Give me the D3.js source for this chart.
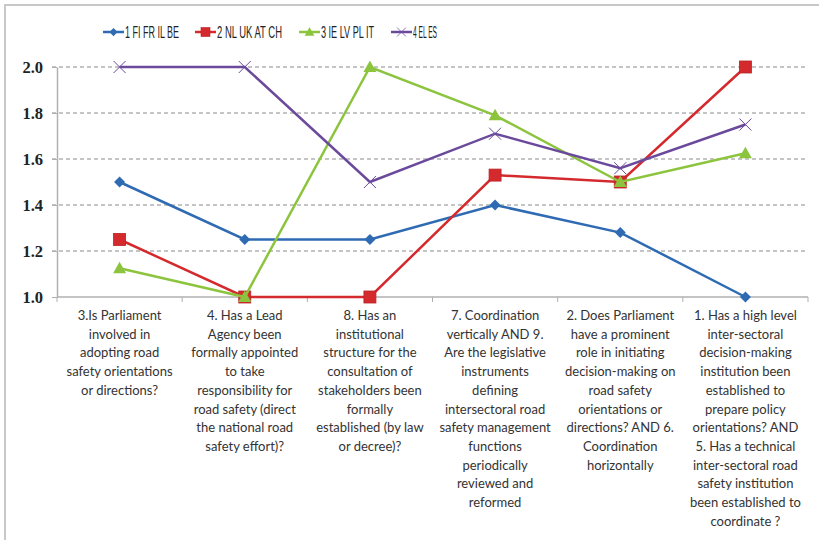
<!DOCTYPE html>
<html>
<head>
<meta charset="utf-8">
<script src="https://d3js.org/d3.v7.min.js"></script>
<style>
body { margin: 0; background: #fff; }
#chart { width: 819px; height: 540px; }
</style>
</head>
<body>
<div id="chart"></div>
<script>
// category labels, already broken into lines as in the original
var categories = [
    ["3.Is Parliament", "involved in", "adopting road", "safety orientations", "or directions?"],
    ["4. Has a Lead", "Agency been", "formally appointed", "to take", "responsibility for", "road safety (direct", "the national road", "safety effort)?"],
    ["8. Has an", "institutional", "structure for the", "consultation of", "stakeholders been", "formally", "established (by law", "or decree)?"],
    ["7. Coordination", "vertically AND 9.", "Are the legislative", "instruments", "defining", "intersectoral road", "safety management", "functions", "periodically", "reviewed and", "reformed"],
    ["2. Does Parliament", "have a prominent", "role in initiating", "decision-making on", "road safety", "orientations or", "directions? AND 6.", "Coordination", "horizontally"],
    ["1. Has a high level", "inter-sectoral", "decision-making", "institution been", "established to", "prepare policy", "orientations? AND", "5. Has a technical", "inter-sectoral road", "safety institution", "been established to", "coordinate ?"]
];

var seriesNames = ["1 FI FR IL BE", "2 NL UK AT CH", "3 IE LV PL IT", "4 EL ES"];
var s1 = [1.5, 1.25, 1.25, 1.4, 1.28, 1.0];
var s2 = [1.25, 1.0, 1.0, 1.53, 1.5, 2.0];
var s3 = [1.125, 1.0, 2.0, 1.79, 1.5, 1.625];
var s4 = [2.0, 2.0, 1.5, 1.71, 1.56, 1.75];
var yTicks = [1.0, 1.2, 1.4, 1.6, 1.8, 2.0];

var colors = ["#2f6bb3", "#d42a2e", "#8cc43e", "#6b4a9c"];
var markers = ["diamond", "square", "triangle", "x"];
var allSeries = [s1, s2, s3, s4];

var width = 819, height = 540;
var svg = d3.select("#chart").append("svg")
    .attr("width", width)
    .attr("height", height);

// outer frame
svg.append("rect")
    .attr("x", 5).attr("y", 5)
    .attr("width", 830).attr("height", 560)
    .attr("fill", "none").attr("stroke", "#c8c8c8").attr("stroke-width", 2);

var plotLeft = 57, plotRight = 808, plotTop = 67, plotBottom = 297;

var x = d3.scaleBand()
    .domain(d3.range(categories.length))
    .range([plotLeft, plotRight]);

var y = d3.scaleLinear()
    .domain([1.0, 2.0])
    .range([plotBottom, plotTop]);

// gridlines
svg.append("g")
    .selectAll("line")
    .data(yTicks.slice(1))
    .enter().append("line")
    .attr("x1", plotLeft - 5).attr("x2", plotRight)
    .attr("y1", function(d) { return y(d); })
    .attr("y2", function(d) { return y(d); })
    .attr("stroke", "#8a8a8a")
    .attr("stroke-dasharray", "4,3")
    .attr("stroke-width", 1);

// y axis
var yAxis = svg.append("g")
    .attr("transform", "translate(" + plotLeft + ",0)")
    .call(d3.axisLeft(y).tickValues(yTicks).tickFormat(d3.format(".1f")).tickSize(5).tickSizeOuter(0));
yAxis.select(".domain").attr("stroke", "#b0b0b0").attr("stroke-width", 1.5);
yAxis.selectAll(".tick line").attr("stroke", "#b0b0b0");
yAxis.selectAll("text")
    .attr("x", -14)
    .style("font-family", "'Liberation Serif', serif")
    .style("font-weight", "bold")
    .style("font-size", "16.5px")
    .attr("fill", "#222");

// x axis line + ticks at category boundaries
svg.append("line")
    .attr("x1", plotLeft).attr("x2", plotRight)
    .attr("y1", plotBottom).attr("y2", plotBottom)
    .attr("stroke", "#b0b0b0").attr("stroke-width", 1.5);

svg.append("g")
    .selectAll("line")
    .data(d3.range(categories.length + 1))
    .enter().append("line")
    .attr("x1", function(i) { return plotLeft + i * x.bandwidth(); })
    .attr("x2", function(i) { return plotLeft + i * x.bandwidth(); })
    .attr("y1", plotBottom).attr("y2", plotBottom + 5)
    .attr("stroke", "#b0b0b0");

// category labels
var labels = svg.append("g")
    .selectAll("text")
    .data(categories)
    .enter().append("text")
    .attr("text-anchor", "middle")
    .style("font-family", "Lato, sans-serif")
    .style("font-size", "13px")
    .attr("fill", "#333");

labels.each(function(lines, i) {
    var t = d3.select(this);
    lines.forEach(function(l, j) {
        t.append("tspan")
            .attr("x", x(i) + x.bandwidth() / 2)
            .attr("y", 320 + j * 18.7)
            .text(l);
    });
});

var line = d3.line()
    .x(function(d, i) { return x(i) + x.bandwidth() / 2; })
    .y(function(d) { return y(d); });

function drawMarker(g, type, color) {
    if (type == "diamond") {
        g.append("path").attr("d", "M0,-5.5L5.5,0L0,5.5L-5.5,0Z").attr("fill", color);
    } else if (type == "square") {
        g.append("rect").attr("x", -6).attr("y", -6).attr("width", 12).attr("height", 12)
            .attr("fill", color).attr("stroke", "#b82226").attr("stroke-width", 0.8);
    } else if (type == "triangle") {
        g.append("path").attr("d", "M0,-6.5L6.5,5L-6.5,5Z").attr("fill", color);
    } else {
        g.append("path").attr("d", "M-6,-6L6,6M-6,6L6,-6")
            .attr("stroke", color).attr("stroke-width", 1).attr("fill", "none");
    }
}

allSeries.forEach(function(s, k) {
    var g = svg.append("g");
    g.append("path")
        .datum(s)
        .attr("d", line)
        .attr("fill", "none")
        .attr("stroke", colors[k])
        .attr("stroke-width", 2.5);
    s.forEach(function(v, i) {
        var m = g.append("g")
            .attr("transform", "translate(" + (x(i) + x.bandwidth() / 2) + "," + y(v) + ")");
        drawMarker(m, markers[k], colors[k]);
    });
});

// legend
var legendX = [103, 195, 299, 391];
var legend = svg.append("g");
seriesNames.forEach(function(n, k) {
    var lg = legend.append("g").attr("transform", "translate(" + legendX[k] + ",32)");
    lg.append("line").attr("x1", 0).attr("x2", 21).attr("y1", 0).attr("y2", 0)
        .attr("stroke", colors[k]).attr("stroke-width", 2.5);
    var m = lg.append("g").attr("transform", "translate(10.5,0) scale(0.75)");
    drawMarker(m, markers[k], colors[k]);
    lg.append("text")
        .attr("x", 22).attr("y", 6)
        .style("font-family", "'Liberation Sans Narrow', 'Liberation Sans', sans-serif")
        .style("font-size", "16px")
        .attr("textLength", [54, 65, 53, 24][k])
        .attr("lengthAdjust", "spacingAndGlyphs")
        .attr("fill", "#222")
        .text(n);
});
</script>
</body>
</html>
